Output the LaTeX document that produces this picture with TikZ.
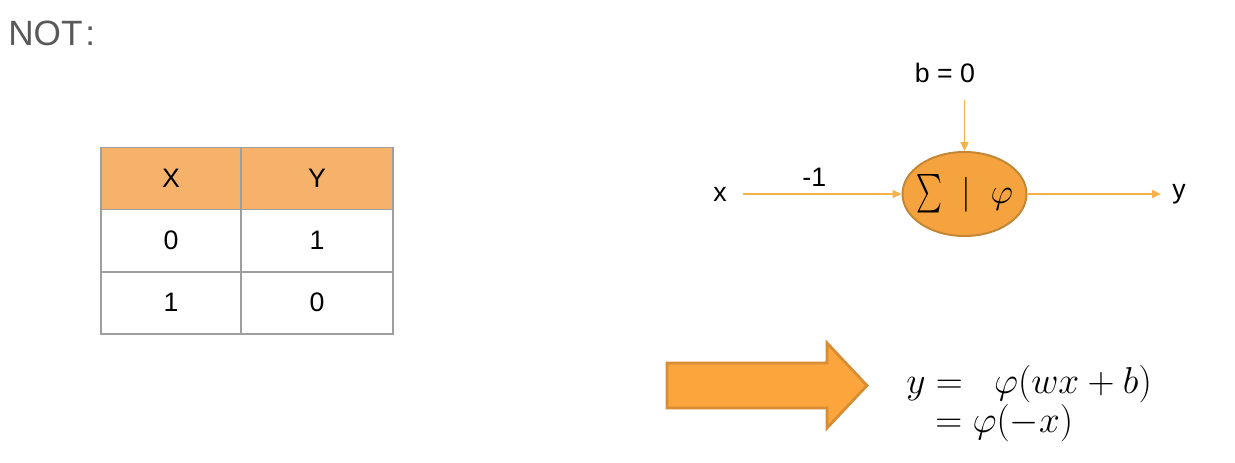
\documentclass[tikz,border=0pt]{standalone}
\usepackage{amsmath}
\usepackage[no-math]{fontspec}
\setmainfont{Liberation Sans}
\usepackage{graphicx}
\usepackage{tikz}
\usetikzlibrary{positioning,shapes,arrows.meta}
\definecolor{notgray}{HTML}{595959}
\definecolor{gridgray}{HTML}{9E9E9E}
\definecolor{headorange}{HTML}{F6B26B}
\definecolor{neuronfill}{HTML}{F5A33F}
\definecolor{neuronedge}{HTML}{C28635}
\definecolor{lineorange}{HTML}{F5B24A}
\definecolor{arrowfill}{HTML}{FBA53C}
\definecolor{arrowedge}{HTML}{D88D34}

\begin{document}
\begin{tikzpicture}[x=0.025cm,y=-0.025cm,
		  every node/.style={inner sep=0pt},
		  cell/.style={draw=gridgray,line width=1.4pt,outer sep=0pt,minimum height=1.55cm,font=\fontsize{19}{22}\selectfont},
		  headcell/.style={cell,fill=headorange},
		  neuron/.style={ellipse,draw=neuronedge,fill=neuronfill,line width=1.4pt,inner sep=-8pt,minimum width=3.1cm,minimum height=2.1cm,font=\fontsize{24}{28}\selectfont},
		  lbl/.style={font=\fontsize{19}{22}\selectfont},
		  conn/.style={draw=lineorange,line width=1pt,-{Triangle[length=2.2mm,width=2mm]}},
		  bigarrow/.style={draw=arrowedge,fill=arrowfill,line width=2pt,line join=miter},
		  formula/.style={anchor=base west,font=\fontsize{24.88}{30}\selectfont}
		]
			\useasboundingbox (0,0) rectangle (1235,462);

			% the title
			\node[anchor=base west,text=notgray,font=\fontsize{25}{30}\selectfont] (title) at (8,45) {NOT\kern2pt:};

			% the table head
			\node[headcell,minimum width=3.5cm] (hx) at (171,178.5) {X};
			\node[headcell,minimum width=3.8cm,right=0pt of hx] (hy) {Y};
			% the table rows
			\foreach \a/\b [count=\r] in {0/1,1/0} {
			  \node[cell,minimum width=3.5cm] (x\r) at (171,{178.5+62*\r}) {\a};
			  \node[cell,minimum width=3.8cm,right=0pt of x\r] (y\r) {\b};
			}

			% the neuron
			\node[neuron] (sum) at (964.5,194) {$\scalebox{0.7}[1.1]{$\sum$}\;\mid\;\varphi$};
			\node[lbl] (x) at (720,194) {x};
			\node[lbl] (y) at (1179,194) {y};
			\node[lbl] (bias) at (945,73) {b = 0};
			\coordinate (bin) at (964.5,100);

			% the edges
			\draw[conn,shorten <=0.4cm] (x) -- node[lbl,above=4.5pt] (w) {-1} (sum);
			\draw[conn,shorten >=0.28cm] (sum) -- (y);
			\draw[conn] (bin) -- (sum.north);

			% the big arrow
			\draw[bigarrow] (667,363) -- (827,363) -- (827,343) -- (867,385.5) -- (827,428) -- (827,408) -- (667,408) -- cycle;

			% the formula
			\node[formula] (eqa) at (906,393) {\scalebox{1.07}{$y = \;\;\varphi(wx+b)$}};
			\node[formula] (eqb) at (935,432) {\scalebox{1.07}{$= \varphi(-x)$}};

		\end{tikzpicture}
\end{document}
